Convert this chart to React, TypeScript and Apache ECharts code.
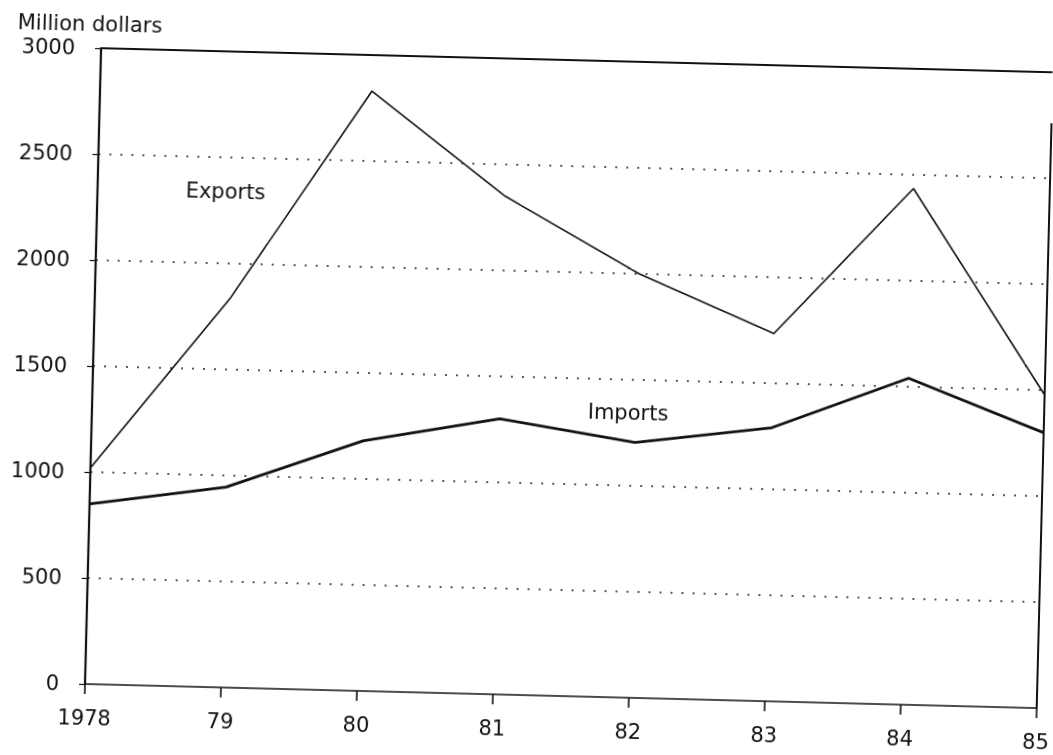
import React, { useEffect, useRef } from "react";
import * as echarts from "echarts";

const years = ["1978", "79", "80", "81", "82", "83", "84", "85"];
const exportsData = [1020, 1840, 2830, 2350, 2000, 1735, 2435, 1480];
const importsData = [850, 945, 1180, 1300, 1205, 1290, 1540, 1300];
const dottedGridValues = [500, 1000, 1500, 2000, 2500];
const topValue = 3000;
const rightLineTop = 2760;
const yAxisTitle = "Million dollars";
const exportsLabel = "Exports";
const importsLabel = "Imports";

const FONT = "DejaVu Sans, Liberation Sans, sans-serif";

export default function App() {
  const ref = useRef<HTMLDivElement | null>(null);

  useEffect(() => {
    if (!ref.current) return;
    const chart = echarts.init(ref.current, undefined, { renderer: "svg" });

    const gridLines: any[] = dottedGridValues.map((v) => ({
      yAxis: v,
      lineStyle: { type: [2, 9], color: "#222", width: 1.6 },
    }));
    gridLines.push({ yAxis: topValue, lineStyle: { type: "solid", color: "#111", width: 1.8 } });
    gridLines.push([
      { coord: [years[years.length - 1], 0], lineStyle: { type: "solid", color: "#111", width: 2 } },
      { coord: [years[years.length - 1], rightLineTop] },
    ]);

    chart.setOption({
      animation: false,
      backgroundColor: "#ffffff",
      grid: { left: 85, right: 16, top: 48, bottom: 71, containLabel: false },
      xAxis: {
        type: "category",
        data: years,
        boundaryGap: false,
        axisLine: { show: true, lineStyle: { color: "#111", width: 1.6 } },
        axisTick: { show: true, inside: false, length: 10, alignWithLabel: true, lineStyle: { color: "#111", width: 1.6 } },
        axisLabel: { color: "#111", fontFamily: FONT, fontSize: 21, margin: 23 },
        splitLine: { show: false },
      },
      yAxis: {
        type: "value",
        min: 0,
        max: 3000,
        interval: 500,
        axisLine: { show: true, lineStyle: { color: "#111", width: 2.2 } },
        axisTick: { show: true, inside: false, length: 6, lineStyle: { color: "#111", width: 1.2 } },
        axisLabel: {
          color: "#111",
          fontFamily: FONT,
          fontSize: 21,
          margin: 26,
          formatter: (v: number) => String(v),
        },
        splitLine: { show: false },
      },
      series: [
        {
          name: "Exports",
          type: "line",
          data: exportsData,
          symbol: "none",
          lineStyle: { color: "#111", width: 1.6 },
          silent: true,
          markLine: {
            silent: true,
            symbol: "none",
            label: { show: false },
            data: gridLines,
          },
          z: 3,
        },
        {
          name: "Imports",
          type: "line",
          data: importsData,
          symbol: "none",
          lineStyle: { color: "#111", width: 2.8 },
          silent: true,
          z: 3,
        },
      ],
      graphic: [
        {
          type: "text",
          x: 1,
          y: 24,
          style: { text: yAxisTitle, font: `21px ${FONT}`, fill: "#111", textAlign: "left", textVerticalAlign: "middle" },
        },
        {
          type: "text",
          x: 213,
          y: 188,
          style: { text: exportsLabel, font: `21px ${FONT}`, fill: "#111", textAlign: "center", textVerticalAlign: "middle" },
        },
        {
          type: "text",
          x: 621,
          y: 399,
          style: { text: importsLabel, font: `21px ${FONT}`, fill: "#111", textAlign: "center", textVerticalAlign: "middle" },
        },
      ],
    });

    return () => chart.dispose();
  }, []);

  return (
    <div
      ref={ref}
      style={{
        position: "fixed",
        left: 0,
        top: 0,
        width: 1053,
        height: 755,
        transform: "rotate(1.45deg)",
        transformOrigin: "85px 684px",
      }}
    />
  );
}
